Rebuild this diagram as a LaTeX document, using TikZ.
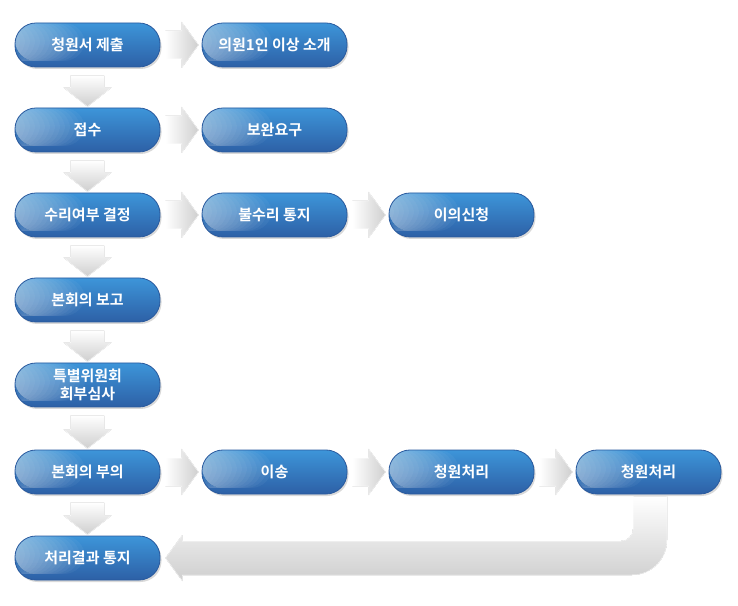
\documentclass[tikz,border=0pt]{standalone}
\usepackage{fontspec}
\newfontfamily\kor{Noto Sans CJK KR Bold}
\usetikzlibrary{calc, shadows}
\definecolor{BoxTop}{HTML}{3D95D9}
\definecolor{BoxBottom}{HTML}{2D60A6}
\definecolor{BoxLine}{HTML}{2A5A9E}
\tikzset{
    stage/.style={
        draw=BoxLine, line width=0.8pt, rounded corners=21pt,
        minimum width=145pt, minimum height=44pt,
        top color=BoxTop, bottom color=BoxBottom,
        text=white, align=center,
        font=\kor\fontsize{15}{18}\selectfont,
        drop shadow={shadow xshift=1.5pt, shadow yshift=-2pt, opacity=0.3},
        path picture={
            \foreach \k in {1,...,14}
                \fill[white, opacity=0.045]
                ([yshift=6pt]path picture bounding box.south west) rectangle
                ([xshift=\k*5pt]path picture bounding box.north west);
        }
    },
    flow right/.style={left color=white, right color=gray!38, draw=white, line width=0.5pt},
    flow down/.style={top color=white, bottom color=gray!38, draw=white, line width=0.5pt}
}
\newcommand{\hflow}[2]{
    \fill[flow right] ($(#1.east)+(5,14)$) -- ($(#2.west)+(-20,14)$) -- ++(0,9)
    -- ($(#2.west)+(-3,0)$) -- ($(#2.west)+(-20,-23)$) -- ++(0,9)
    -- ($(#1.east)+(5,-14)$) -- cycle;
}
\newcommand{\vflow}[2]{
    \fill[flow down] ($(#1.south)+(-17,-8)$) -- ($(#2.north)+(-17,20)$) -- ++(-7,0)
    -- ($(#2.north)+(0,1)$) -- ($(#2.north)+(24,20)$) -- ++(-7,0)
    -- ($(#1.south)+(17,-8)$) -- cycle;
}

\begin{document}
\begin{tikzpicture}[x=1pt, y=1pt]

    \useasboundingbox (0,0) rectangle (738,605);

    % Etapas
    \node[stage] (submit) at (87.5,560) {청원서 제출};
    \node[stage] (intro) at (274.5,560) {의원1인 이상 소개};
    \node[stage] (receipt) at (87.5,475) {접수};
    \node[stage] (supplement) at (274.5,475) {보완요구};
    \node[stage] (decision) at (87.5,390) {수리여부 결정};
    \node[stage] (rejection) at (274.5,390) {불수리 통지};
    \node[stage] (objection) at (461.5,390) {이의신청};
    \node[stage] (report) at (87.5,305) {본회의 보고};
    \node[stage] (review) at (87.5,220) {특별위원회\\회부심사};
    \node[stage] (agenda) at (87.5,133) {본회의 부의};
    \node[stage] (transfer) at (274.5,133) {이송};
    \node[stage] (handling) at (461.5,133) {청원처리};
    \node[stage] (result) at (648.5,133) {청원처리};
    \node[stage] (notice) at (87.5,47) {처리결과 통지};

    % Flechas horizontales
    \hflow{submit}{intro}
    \hflow{receipt}{supplement}
    \hflow{decision}{rejection}
    \hflow{rejection}{objection}
    \hflow{agenda}{transfer}
    \hflow{transfer}{handling}
    \hflow{handling}{result}

    % Flechas verticales
    \vflow{submit}{receipt}
    \vflow{receipt}{decision}
    \vflow{decision}{report}
    \vflow{report}{review}
    \vflow{review}{agenda}
    \vflow{agenda}{notice}

    % Flecha de retorno
    \coordinate (r1) at ($(result.south)+(-15.5,-2)$);
    \coordinate (bt) at ($(notice.east)+(22,17)$);
    \coordinate (bb) at ($(notice.east)+(22,-17)$);
    \fill[flow down] (r1) -- ([yshift=12pt]r1 |- bt)
    arc[start angle=0, end angle=-90, radius=12pt]
    -- (bt) -- ++(0,6) -- ($(notice.east)+(5,0)$) -- ($(bb)+(0,-6)$) -- (bb)
    -- ([xshift=-1pt]bb -| r1)
    arc[start angle=-90, end angle=0, radius=35pt]
    -- ([xshift=34pt]r1) -- cycle;

\end{tikzpicture}
\end{document}
